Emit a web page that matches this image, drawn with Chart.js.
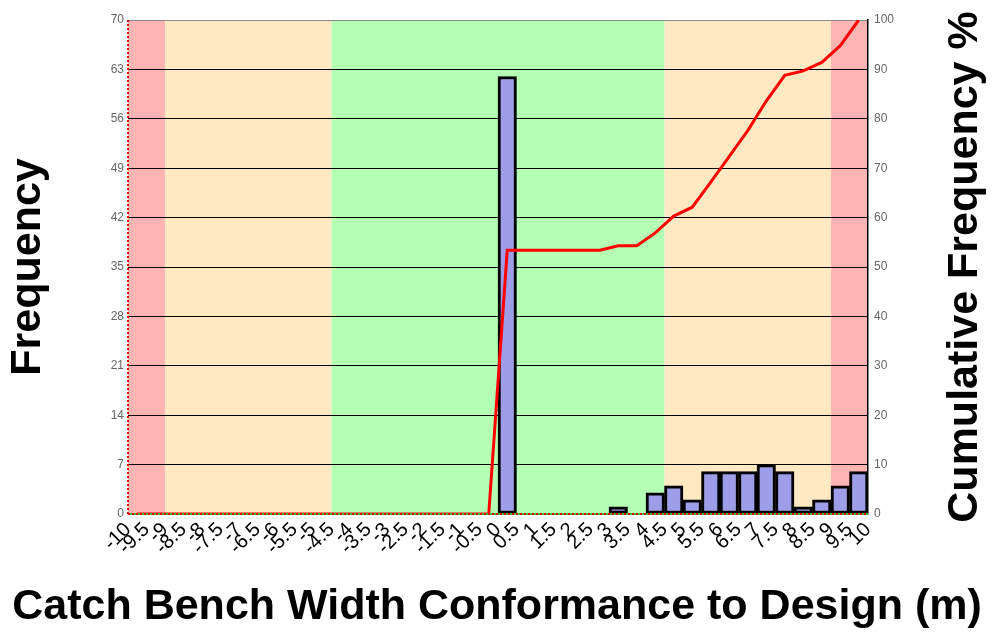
<!DOCTYPE html>
<html>
<head>
<meta charset="utf-8">
<script src="https://cdn.jsdelivr.net/npm/chart.js@4"></script>
<style>
  body { margin: 0; background: #fff; }
</style>
</head>
<body>
<canvas id="histChart" width="996" height="643"></canvas>
<script>
// bin centres (bins 0.5 m wide, -10 .. 10)
const binCenters = [-9.75, -9.25, -8.75, -8.25, -7.75, -7.25, -6.75, -6.25, -5.75, -5.25,
                    -4.75, -4.25, -3.75, -3.25, -2.75, -2.25, -1.75, -1.25, -0.75, -0.25,
                    0.25, 0.75, 1.25, 1.75, 2.25, 2.75, 3.25, 3.75, 4.25, 4.75,
                    5.25, 5.75, 6.25, 6.75, 7.25, 7.75, 8.25, 8.75, 9.25, 9.75];
const frequency = [0, 0, 0, 0, 0, 0, 0, 0, 0, 0,
                   0, 0, 0, 0, 0, 0, 0, 0, 0, 0,
                   62, 0, 0, 0, 0, 0, 1, 0, 3, 4,
                   2, 6, 6, 6, 7, 6, 1, 2, 4, 6];
const cumulativePct = [0, 0, 0, 0, 0, 0, 0, 0, 0, 0,
                       0, 0, 0, 0, 0, 0, 0, 0, 0, 0,
                       53.4, 53.4, 53.4, 53.4, 53.4, 53.4, 54.3, 54.3, 56.9, 60.3,
                       62.1, 67.2, 72.4, 77.6, 83.6, 88.8, 89.7, 91.4, 94.8, 100];
const xTickLabels = ['-10', '-9.5', '-9', '-8.5', '-8', '-7.5', '-7', '-6.5', '-6', '-5.5',
                     '-5', '-4.5', '-4', '-3.5', '-3', '-2.5', '-2', '-1.5', '-1', '-0.5',
                     '0', '0.5', '1', '1.5', '2', '2.5', '3', '3.5', '4', '4.5',
                     '5', '5.5', '6', '6.5', '7', '7.5', '8', '8.5', '9', '9.5', '10'];
const zoneEdges = [-10, -9, -4.5, 4.5, 9, 10];
const zoneColors = ['#ffb4b4', '#ffe9c2', '#b4ffb4', '#ffe9c2', '#ffb4b4'];

const FONT = 'Arial, Helvetica, sans-serif';

// coloured tolerance zones behind the grid
const zonesPlugin = {
    id: 'zones',
    beforeDraw(chart) {
        const {ctx, chartArea, scales} = chart;
        ctx.save();
        for (let i = 0; i < zoneColors.length; i++) {
            const x1 = scales.x.getPixelForValue(zoneEdges[i]);
            const x2 = scales.x.getPixelForValue(zoneEdges[i + 1]);
            ctx.fillStyle = zoneColors[i];
            ctx.fillRect(x1, chartArea.top, x2 - x1, chartArea.bottom - chartArea.top);
        }
        ctx.restore();
    }
};

function drawTitle(ctx, text, x, y, angle) {
    ctx.save();
    ctx.translate(x, y);
    ctx.rotate(angle);
    ctx.font = 'bold 43px ' + FONT;
    ctx.fillStyle = '#000';
    ctx.textAlign = 'center';
    ctx.textBaseline = 'middle';
    ctx.fillText(text, 0, 0);
    ctx.restore();
}

// dotted axis lines + axis titles
const axesPlugin = {
    id: 'axesDeco',
    afterDraw(chart) {
        const {ctx, chartArea} = chart;
        ctx.save();
        ctx.lineWidth = 2;
        ctx.strokeStyle = '#30c030';
        ctx.beginPath();
        ctx.moveTo(chartArea.left, chartArea.bottom);
        ctx.lineTo(chartArea.right, chartArea.bottom);
        ctx.stroke();
        ctx.setLineDash([2, 2]);
        ctx.strokeStyle = '#e00000';
        ctx.beginPath();
        ctx.moveTo(chartArea.left, chartArea.bottom);
        ctx.lineTo(chartArea.right, chartArea.bottom);
        ctx.moveTo(chartArea.left, chartArea.bottom);
        ctx.lineTo(chartArea.left, chartArea.top);
        ctx.stroke();
        ctx.restore();

        const midY = (chartArea.top + chartArea.bottom) / 2;
        drawTitle(ctx, 'Frequency', 28, midY, -Math.PI / 2);
        drawTitle(ctx, 'Cumulative Frequency %', 965, midY, -Math.PI / 2);
        drawTitle(ctx, 'Catch Bench Width Conformance to Design (m)', 497, 607, 0);
    }
};

const ctx = document.getElementById('histChart').getContext('2d');
const histChart = new Chart(ctx, {
    data: {
        datasets: [
            {
                type: 'line',
                label: 'Cumulative Frequency %',
                data: binCenters.map((x, i) => ({x: x, y: cumulativePct[i]})),
                yAxisID: 'y2',
                borderColor: '#ff0000',
                borderWidth: 3,
                pointRadius: 0,
                tension: 0,
                order: 0
            },
            {
                type: 'bar',
                label: 'Frequency',
                data: binCenters.map((x, i) => ({x: x, y: frequency[i]})),
                yAxisID: 'y',
                backgroundColor: '#9d9de8',
                borderColor: '#000',
                borderWidth: 3,
                borderSkipped: false,
                barPercentage: 1,
                categoryPercentage: 1,
                order: 1
            }
        ]
    },
    options: {
        responsive: false,
        animation: false,
        layout: { padding: { top: 20 } },
        plugins: {
            legend: { display: false },
            tooltip: { enabled: false }
        },
        scales: {
            x: {
                type: 'linear',
                min: -10,
                max: 10,
                offset: false,
                afterFit(scale) { scale.height = 129; },
                afterBuildTicks(scale) {
                    scale.ticks = xTickLabels.map((t, i) => ({value: -10 + i * 0.5}));
                },
                ticks: {
                    autoSkip: false,
                    maxRotation: 45,
                    minRotation: 45,
                    padding: 4,
                    color: '#000',
                    font: { family: FONT, size: 20 },
                    callback: (value, index) => xTickLabels[index]
                },
                grid: { display: false, drawTicks: false },
                border: { display: false }
            },
            y: {
                position: 'left',
                min: 0,
                max: 70,
                afterFit(scale) { scale.width = 128; },
                ticks: {
                    stepSize: 7,
                    padding: 4,
                    color: '#666',
                    font: { family: FONT, size: 12 }
                },
                grid: {
                    color: c => c.tick.value === 70 ? '#888' : '#000',
                    drawTicks: false
                },
                border: { display: false }
            },
            y2: {
                position: 'right',
                min: 0,
                max: 100,
                afterFit(scale) { scale.width = 128; },
                ticks: {
                    stepSize: 10,
                    padding: 6,
                    color: '#666',
                    font: { family: FONT, size: 12 }
                },
                grid: { display: false, drawTicks: false },
                border: { color: '#000', width: 1.5 }
            }
        }
    },
    plugins: [zonesPlugin, axesPlugin]
});
</script>
</body>
</html>
